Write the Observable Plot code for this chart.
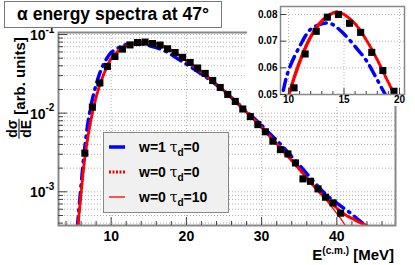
<!DOCTYPE html>
<html><head><meta charset="utf-8">
<script src="https://cdn.jsdelivr.net/npm/d3@7"></script>
<script src="https://cdn.jsdelivr.net/npm/@observablehq/plot@0.6"></script>
<style>
body{margin:0;background:#fff;}
#wrap{position:relative;width:415px;height:265px;overflow:hidden;font-family:"Liberation Sans",Arial,sans-serif;font-weight:bold;color:#000;}
#main{position:absolute;left:0;top:0;}
#inset{position:absolute;left:247px;top:0;background:#fff;}
#title{position:absolute;left:4px;top:1px;width:216px;height:25px;border:1px solid #777;background:#fff;font-size:17.5px;line-height:25px;text-align:center;white-space:nowrap;}
#legend{position:absolute;left:103px;top:132px;width:124px;height:79px;border:1px solid #888;background:#f0f0f0;}
.row{position:absolute;left:4px;height:20px;font-size:14px;line-height:20px;white-space:nowrap;}
.row svg{position:absolute;left:0;top:0;}
.row span{position:absolute;left:31px;top:0;}
.tau{font-weight:normal;font-family:"DejaVu Serif",serif;font-style:normal;}
sub{font-size:10px;vertical-align:-4px;line-height:0;}
sup{font-size:10px;vertical-align:6px;line-height:0;}
#ylab{position:absolute;left:19px;top:88px;transform:translate(-50%,-50%) rotate(-90deg);white-space:nowrap;font-size:15px;display:flex;align-items:center;}
.frac{display:inline-flex;flex-direction:column;align-items:center;margin-right:4px;font-size:14px;line-height:13px;}
.frac .num{border-bottom:1.5px solid #000;padding:0 1px;}
#xlab{position:absolute;right:21px;top:246px;font-size:15px;white-space:nowrap;}
</style>
</head><body>
<div id="wrap">
  <div id="main"></div>
  <div id="inset"></div>
  <div id="title">α energy spectra at 47°</div>
  <div id="ylab"><span class="frac"><span class="num">dσ</span><span class="den">dE</span></span><span>[arb. units]</span></div>
  <div id="xlab">E<sup>(c.m.)</sup> [MeV]</div>
  <div id="legend"></div>
</div>
<script>
// ---- data ----
const dataE = [6.5,7.5,8.5,9.5,10.5,11.5,12.5,13.5,14.5,15.5,16.5,17.5,18.5,19.5,20.5,21.5,22.5,23.5,24.5,25.5,26.5,27.5,28.5,29.5,30.5,31.5,32.5,33.5,34.5,35.5,36.5,37.5,38.5,39.5,40.5];
const dataV = [0.0031,0.0119,0.0242,0.0393,0.0525,0.0652,0.0737,0.0790,0.0800,0.0767,0.0733,0.0658,0.0590,0.0512,0.0440,0.0375,0.0320,0.0260,0.0212,0.0173,0.0141,0.0113,0.00904,0.00715,0.0058,0.0044,0.00344,0.00303,0.00233,0.00146,0.00136,0.00109,0.000854,0.000724,0.000535];

const blueE = [5.5,6,6.5,7,7.5,8,8.5,9,9.5,10,11,12,13,13.5,14,15,16,17,18,19,20,21,22,23,24,25,26,27,28,29,30,31,32,33,34,35,36,37,38,39,40,41,42,43,44,45];
const blueV = [0.00035,0.0012,0.0037,0.0085,0.0150,0.0230,0.0325,0.042,0.051,0.059,0.068,0.0745,0.0765,0.0768,0.0762,0.0727,0.068,0.0628,0.0555,0.048,0.042,0.0365,0.0315,0.027,0.0228,0.019,0.0157,0.0129,0.0105,0.0086,0.0070,0.0056,0.0045,0.0036,0.0028,0.0022,0.0017,0.00133,0.00104,0.00085,0.00072,0.00061,0.00052,0.00043,0.00036,0.0003];

const dotE = [5.5,6,6.5,7,7.5,8,8.5,9,9.5,10,11,12,13,14,14.4,15,16,17,18,19,20,21,22,23,24,25,26,27,28,29,30,31,32,33,34,35,36,37,38,39,40,41,42,43,44,45];
const dotV = [0.0003,0.00095,0.0027,0.0056,0.0100,0.0160,0.0230,0.0310,0.0400,0.0495,0.0625,0.0718,0.0777,0.0806,0.0810,0.0800,0.0765,0.0705,0.0630,0.0545,0.0465,0.0395,0.0335,0.0280,0.0233,0.0193,0.0158,0.0128,0.0103,0.0083,0.0066,0.0052,0.0041,0.0032,0.0025,0.00195,0.0015,0.00117,0.00092,0.00075,0.00062,0.00052,0.00046,0.00041,0.00037,0.00033];

const solE = [5.5,6,6.5,7,7.5,8,8.5,9,9.5,10,11,12,13,14,14.5,15,16,17,18,19,20,21,22,23,24,25,26,27,28,29,30,31,32,33,34,35,36,37,38,38.5,39,39.5,40,40.5,41,41.5,42];
const solV = [0.0003,0.0009,0.0026,0.0055,0.0098,0.0157,0.0226,0.0305,0.0394,0.0482,0.0610,0.0708,0.0770,0.0802,0.0808,0.0800,0.0768,0.0708,0.0632,0.0547,0.0466,0.0396,0.0335,0.0280,0.0233,0.0193,0.0158,0.0128,0.0103,0.0083,0.0066,0.0051,0.0041,0.0032,0.0025,0.00195,0.0015,0.00117,0.00092,0.00080,0.00070,0.00061,0.00053,0.00046,0.00039,0.00032,0.00025];

const xMajor = [10,20,30,40];
const xMinor = [4,6,8,12,14,16,18,22,24,26,28,32,34,36,38,42,44,46];
const yMajor = [0.001,0.01,0.1];
const yMinor = [0.0004,0.0005,0.0006,0.0007,0.0008,0.0009,0.002,0.003,0.004,0.005,0.006,0.007,0.008,0.009,0.02,0.03,0.04,0.05,0.06,0.07,0.08,0.09];
const yExp = ["-3","-2","-1"];

const insetXMajor = [10,15,20];
const insetXMinor = [11,12,13,14,16,17,18,19];
const insetYMajor = [0.05,0.06,0.07,0.08];

const legendItems = [
  {label:"w=1", tau:"0", stroke:"#0000ff", width:3.5, dash:null},
  {label:"w=0", tau:"0", stroke:"#ff0000", width:3, dash:"2,1.5"},
  {label:"w=0", tau:"10", stroke:"#ff0000", width:1.3, dash:null}
];

// ---- helpers ----
const pts = (E,V) => E.map((e,i)=>({e, v:V[i]}));
const data = pts(dataE,dataV), blue = pts(blueE,blueV), dot = pts(dotE,dotV), sol = pts(solE,solV);

const W=415,H=265,mL=58,mR=20,mT=32,mB=40;
const innerW=W-mL-mR, innerH=H-mT-mB;
const gridStyle = {stroke:"#b0b0b0", strokeOpacity:1, strokeWidth:1, strokeDasharray:"1,2"};
const blueDash = "11,6,1.5,6";

const main = Plot.plot({
  width:W, height:H, marginLeft:mL, marginRight:mR, marginTop:mT, marginBottom:mB,
  style:{fontFamily:"Liberation Sans, Arial, sans-serif", fontWeight:"bold", background:"transparent", color:"#000"},
  x:{domain:[3,47.8]},
  y:{type:"log", domain:[3.73e-4,0.106]},
  marks:[
    Plot.ruleX(xMajor, {x:d=>d, ...gridStyle}),
    Plot.ruleY(yMajor.concat(yMinor), {y:d=>d, ...gridStyle}),
    Plot.line(blue, {x:"e", y:"v", stroke:"#0000ff", strokeWidth:3.5, strokeDasharray:blueDash, curve:"catmull-rom", clip:true}),
    Plot.line(dot, {x:"e", y:"v", stroke:"#ff0000", strokeWidth:3, strokeDasharray:"2,2", curve:"catmull-rom", clip:true}),
    Plot.line(sol, {x:"e", y:"v", stroke:"#ff0000", strokeWidth:1.3, curve:"catmull-rom", clip:true}),
    Plot.dot(data, {x:"e", y:"v", symbol:"square", r:4, fill:"#000", stroke:"none", clip:true}),
    Plot.frame({stroke:"#888", strokeWidth:2}),
    Plot.ruleX(xMajor, {x:d=>d, insetTop:innerH-8, stroke:"#444"}),
    Plot.ruleX(xMinor, {x:d=>d, insetTop:innerH-4, stroke:"#444"}),
    Plot.ruleY(yMajor, {y:d=>d, insetRight:innerW-9, stroke:"#444"}),
    Plot.ruleY(yMinor, {y:d=>d, insetRight:innerW-5, stroke:"#444"}),
    Plot.axisX(xMajor, {tickSize:0, tickPadding:6, fontSize:14, fontWeight:"bold", label:null}),
    Plot.axisY({ticks:[], label:null, tickSize:0}),
    Plot.text(yMajor, {y:d=>d, text:()=> "10", frameAnchor:"left", textAnchor:"end", dx:-13, dy:1, fontSize:14, fontWeight:"bold"}),
    Plot.text(yMajor, {y:d=>d, text:(d,i)=> yExp[i], frameAnchor:"left", textAnchor:"start", dx:-13, dy:-5, fontSize:10, fontWeight:"bold"})
  ]
});
document.getElementById("main").appendChild(main);

const iW=168,iH=106,iL=33,iR=11,iT=6,iB=12;
const inset = Plot.plot({
  width:iW, height:iH, marginLeft:iL, marginRight:iR, marginTop:iT, marginBottom:iB,
  style:{fontFamily:"Liberation Sans, Arial, sans-serif", fontWeight:"bold", background:"#fff", color:"#000", overflow:"visible"},
  x:{domain:[9.28,20.45]},
  y:{domain:[0.05,0.083]},
  marks:[
    Plot.ruleX(insetXMajor, {x:d=>d, ...gridStyle}),
    Plot.ruleY(insetYMajor, {y:d=>d, ...gridStyle}),
    Plot.line(blue, {x:"e", y:"v", stroke:"#0000ff", strokeWidth:3.5, strokeDasharray:blueDash, curve:"catmull-rom", clip:true}),
    Plot.line(dot, {x:"e", y:"v", stroke:"#ff0000", strokeWidth:3, strokeDasharray:"2,2", curve:"catmull-rom", clip:true}),
    Plot.line(sol, {x:"e", y:"v", stroke:"#ff0000", strokeWidth:1.3, curve:"catmull-rom", clip:true}),
    Plot.dot(data, {x:"e", y:"v", symbol:"square", r:4, fill:"#000", stroke:"none", clip:true}),
    Plot.frame({stroke:"#888", strokeWidth:1.5}),
    Plot.ruleX(insetXMajor, {x:d=>d, insetTop:(iH-iT-iB)-6, stroke:"#444"}),
    Plot.ruleX(insetXMinor, {x:d=>d, insetTop:(iH-iT-iB)-3, stroke:"#444"}),
    Plot.ruleY(insetYMajor, {y:d=>d, insetRight:(iW-iL-iR)-6, stroke:"#444"}),
    Plot.axisX(insetXMajor, {tickSize:0, tickPadding:1, fontSize:10, fontWeight:"bold", label:null}),
    Plot.axisY(insetYMajor, {tickSize:0, tickPadding:3, fontSize:10, fontWeight:"bold", tickFormat:d3.format(".2f"), label:null})
  ]
});
document.getElementById("inset").appendChild(inset);

// legend
const leg = document.getElementById("legend");
const rowTops = [4,29,54];
legendItems.forEach((it,i)=>{
  const row = document.createElement("div");
  row.className="row"; row.style.top = rowTops[i]+"px";
  row.innerHTML = `<svg width="24" height="20"><line x1="1" x2="17" y1="10" y2="10" stroke="${it.stroke}" stroke-width="${it.width}" ${it.dash?`stroke-dasharray="${it.dash}"`:""}/></svg><span>${it.label} <span class="tau" style="position:static">τ</span><sub>d</sub>=${it.tau}</span>`;
  leg.appendChild(row);
});
</script>
</body></html>
